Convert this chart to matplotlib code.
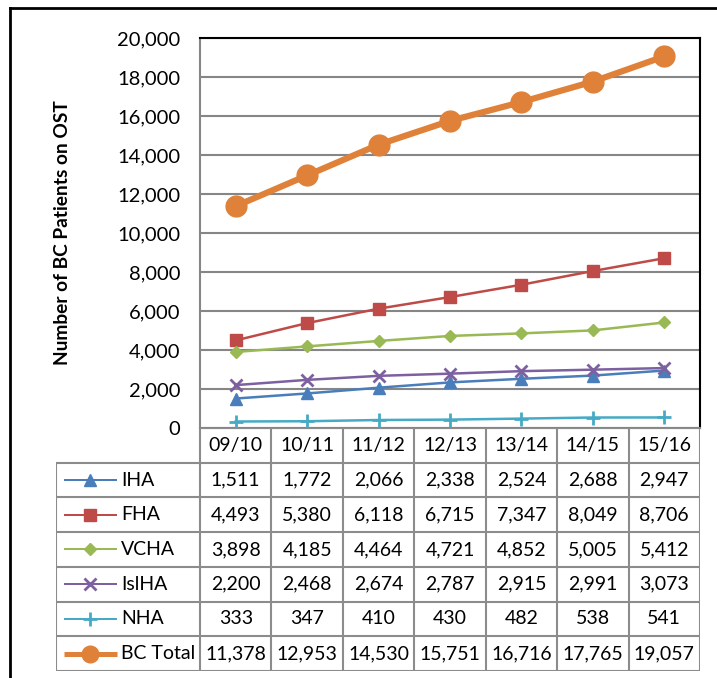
import matplotlib.pyplot as plt
from matplotlib.lines import Line2D

# datos
years = ["09/10", "10/11", "11/12", "12/13", "13/14", "14/15", "15/16"]
iha = [1511, 1772, 2066, 2338, 2524, 2688, 2947]
fha = [4493, 5380, 6118, 6715, 7347, 8049, 8706]
vcha = [3898, 4185, 4464, 4721, 4852, 5005, 5412]
islha = [2200, 2468, 2674, 2787, 2915, 2991, 3073]
nha = [333, 347, 410, 430, 482, 538, 541]
bc_total = [11378, 12953, 14530, 15751, 16716, 17765, 19057]

names = ["IHA", "FHA", "VCHA", "IslHA", "NHA", "BC Total"]
series = [iha, fha, vcha, islha, nha, bc_total]
colors = ["#4A7EBB", "#BE4B48", "#98B954", "#7D60A0", "#46AAC5", "#DF8139"]
markers = ["^", "s", "D", "x", "+", "o"]
msizes = [8, 9, 6, 9, 10, 15]
lwidths = [1.8, 1.8, 1.8, 1.8, 1.8, 4.5]

plt.rcParams['font.family'] = ['Lato', 'DejaVu Sans']
fs = 14.5
fs_tab = 14

W, H = 717, 678
fig = plt.figure(figsize=(W / 100, H / 100), dpi=100)

def fx(px):
    return px / W

def fy(py):
    return 1 - py / H

# area del grafico
left, right, top, bottom = 200, 700, 38, 428
ax = fig.add_axes([fx(left), fy(bottom), fx(right - left), fy(top) - fy(bottom)])

x = list(range(len(years)))
for s, c, m, ms, lw in zip(series, colors, markers, msizes, lwidths):
    mew = 2 if m in ("x", "+") else 1
    ax.plot(x, s, color=c, marker=m, markersize=ms, linewidth=lw,
            markeredgewidth=mew, zorder=3)

ax.set_xlim(-0.5, len(years) - 0.5)
ax.set_ylim(0, 20000)
ax.set_yticks(range(0, 20001, 2000))
ax.set_yticklabels([f"{v:,}" for v in range(0, 20001, 2000)], fontsize=fs)
ax.set_xticks([])
ax.tick_params(axis='y', length=0, pad=14)
ax.grid(axis='y', color='#868686', linewidth=1.5, zorder=0)
ax.spines['top'].set_color('black')
ax.spines['right'].set_color('black')
ax.spines['top'].set_linewidth(1.5)
ax.spines['right'].set_linewidth(1.5)
ax.spines['left'].set_color('#868686')
ax.spines['left'].set_linewidth(1.5)
ax.spines['bottom'].set_color('#868686')
ax.spines['bottom'].set_linewidth(1.5)
ax.set_ylabel("Number of BC Patients on OST", fontsize=13.8, fontweight='bold')
ax.yaxis.set_label_coords((71 - left) / (right - left), 0.5)

# tabla de datos
tab_left = 56
row_h = 34.7
col_w = (right - left) / len(years)
tab_bottom = bottom + row_h * (len(names) + 1)
tax = fig.add_axes([fx(tab_left), fy(tab_bottom), fx(right - tab_left), fy(bottom) - fy(tab_bottom)])
tax.set_xlim(tab_left, right)
tax.set_ylim(tab_bottom, bottom)
tax.axis('off')

grid_c = '#8C8C8C'
# lineas horizontales
tax.plot([left, right], [bottom, bottom], color=grid_c, lw=1.5)
for k in range(1, len(names) + 2):
    y = bottom + k * row_h
    tax.plot([tab_left, right], [y, y], color=grid_c, lw=1.5)
# lineas verticales
tax.plot([tab_left, tab_left], [bottom + row_h, tab_bottom], color=grid_c, lw=1.5)
for j in range(len(years) + 1):
    xx = left + j * col_w
    tax.plot([xx, xx], [bottom, tab_bottom], color=grid_c, lw=1.5)

for j, yr in enumerate(years):
    tax.text(left + (j + 0.5) * col_w, bottom + row_h / 2, yr,
             ha='center', va='center', fontsize=fs_tab)

for i, (nm, s) in enumerate(zip(names, series)):
    yc = bottom + (i + 1.5) * row_h
    tax.plot([64, 117], [yc, yc], color=colors[i], lw=lwidths[i] * 0.8,
             solid_capstyle='butt')
    mew = 2 if markers[i] in ("x", "+") else 1
    tax.plot([90.5], [yc], color=colors[i], marker=markers[i],
             markersize=msizes[i] * (0.8 if i == 5 else 1.0), markeredgewidth=mew)
    tax.text(121, yc, nm, ha='left', va='center', fontsize=fs_tab)
    for j, v in enumerate(s):
        tax.text(left + (j + 0.5) * col_w, yc, f"{v:,}",
                 ha='center', va='center', fontsize=fs_tab)

# borde exterior
fig.add_artist(Line2D([fx(10), fx(10)], [0, fy(8)], color='black', lw=2))
fig.add_artist(Line2D([fx(10), 1], [fy(8), fy(8)], color='black', lw=2))

plt.savefig("out.png", dpi=100)
